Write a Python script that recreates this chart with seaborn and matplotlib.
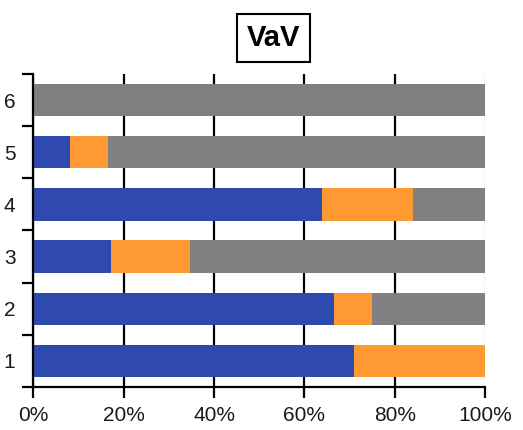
import matplotlib
matplotlib.use("Agg")
import matplotlib.pyplot as plt
import seaborn as sns
import pandas as pd
import numpy as np

# Shares per row (percent), rows listed top to bottom
categories = ["6", "5", "4", "3", "2", "1"]
blue_share = [0.0, 8.1, 63.9, 17.2, 66.6, 71.0]
orange_share = [0.0, 8.4, 20.2, 17.5, 8.4, 29.0]
gray_share = [100.0, 83.5, 15.9, 65.3, 25.0, 0.0]

BLUE = "#2E4AB0"
ORANGE = "#FF9933"
GRAY = "#808080"

sns.set_theme(style="white")
plt.rcParams["font.family"] = ["Liberation Sans", "DejaVu Sans"]

df = pd.DataFrame({
    "row": categories,
    "blue": blue_share,
    "orange": orange_share,
    "gray": gray_share,
})
df["cum_blue"] = df["blue"]
df["cum_orange"] = df["blue"] + df["orange"]
df["cum_gray"] = df["cum_orange"] + df["gray"]

fig = plt.figure(figsize=(5.23, 4.30), dpi=100)
ax = fig.add_axes([0.064, 0.100, 0.8634, 0.728])

# Stacked bars drawn as overlapping cumulative totals
for col, color in [("cum_gray", GRAY), ("cum_orange", ORANGE), ("cum_blue", BLUE)]:
    sns.barplot(data=df, x=col, y="row", order=categories, orient="h",
                color=color, width=0.62, saturation=1, ax=ax, linewidth=0)

ax.set_xlim(0, 100)
ax.set_ylim(5.5, -0.5)
ax.set_xlabel("")
ax.set_ylabel("")

# Vertical gridlines behind the bars
ax.set_axisbelow(True)
ax.set_xticks([0, 20, 40, 60, 80, 100])
ax.set_xticklabels(["0%", "20%", "40%", "60%", "80%", "100%"])
ax.grid(axis="x", color="black", linewidth=1.6)
ax.grid(axis="y", visible=False)
ax.get_xgridlines()[-1].set_color("#c8c8c8")
ax.get_xgridlines()[-1].set_linewidth(1.0)

# Category ticks sit between rows; labels centred on each row
ax.set_yticks(np.arange(-0.5, 6.0, 1.0))
ax.set_yticklabels([])
ax.set_yticks(np.arange(0, 6), minor=True)
ax.set_yticklabels(categories, minor=True)
ax.tick_params(axis="y", which="major", direction="out", length=8, width=1.6,
               color="black", left=True)
ax.tick_params(axis="y", which="minor", length=0, labelsize=15, pad=13,
               labelcolor="#1a1a1a")
ax.tick_params(axis="x", direction="out", length=8, width=1.6, color="black",
               bottom=True, labelsize=15, pad=6, labelcolor="#1a1a1a")

for side in ["top", "right"]:
    ax.spines[side].set_visible(False)
for side in ["left", "bottom"]:
    ax.spines[side].set_color("black")
    ax.spines[side].set_linewidth(1.6)

fig.text(273.5 / 523, 1 - 38 / 430, "VaV", ha="center", va="center",
         fontsize=21, fontweight="bold", color="black",
         bbox=dict(boxstyle="square,pad=0.35", facecolor="white",
                   edgecolor="black", linewidth=1.5))

fig.savefig("out.png", dpi=100)
